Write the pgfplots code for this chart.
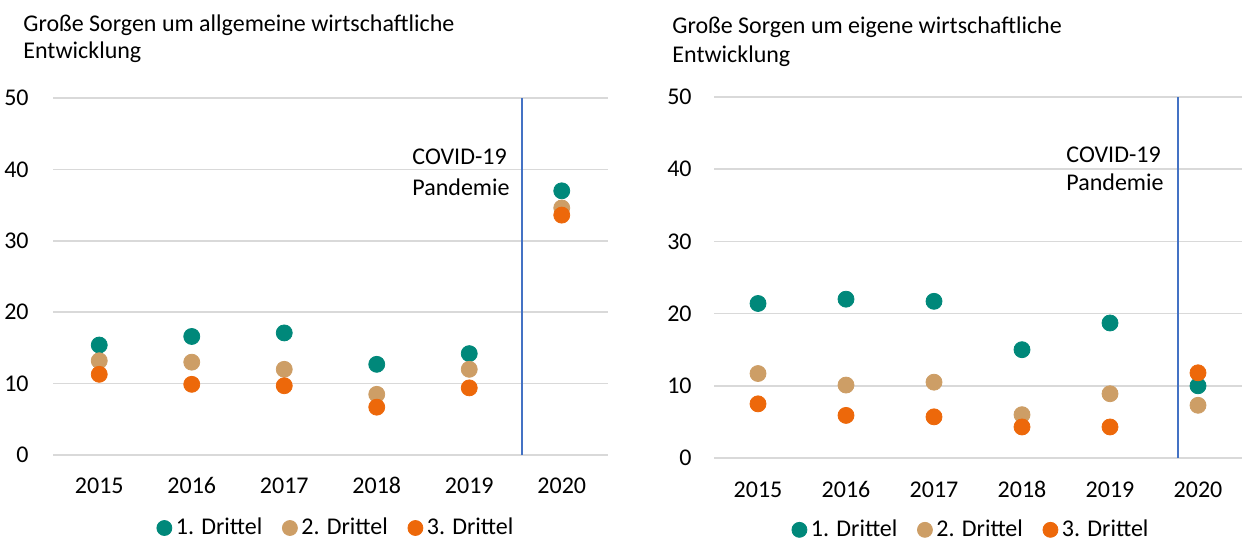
\documentclass[border=0pt]{standalone}
\usepackage{fontspec}
\setmainfont{Carlito}
\usepackage{pgfplots}
\pgfplotsset{compat=1.18}
\definecolor{cteal}{RGB}{0,136,122}
\definecolor{ctan}{RGB}{205,158,102}
\definecolor{corange}{RGB}{237,104,10}
\definecolor{cblue}{RGB}{68,114,196}
\definecolor{cgrid}{RGB}{217,217,217}
\newcommand{\tfont}{\fontsize{12}{14}\selectfont}
\pgfplotsset{
  mystyle/.style={
    scale only axis, anchor=south west,
    xmin=-0.5, xmax=5.5, ymin=0, ymax=50,
    ytick={0,10,20,30,40,50}, xtick={0,1,2,3,4,5},
    xticklabels={2015,2016,2017,2018,2019,2020},
    ymajorgrids, grid style={line width=0.75pt, color=cgrid},
    axis line style={draw=none}, major tick length=0pt,
    tick label style={font=\tfont},
    /pgf/number format/assume math mode=true,
    clip=false,
    legend columns=3,
    legend style={draw=none, fill=none, font=\tfont, anchor=center,
      /tikz/every even column/.append style={column sep=8pt}},
    legend image code/.code={\draw[##1,mark size=3.75pt] plot coordinates {(0pt,0pt)};},
  },
  dots/.style={only marks, mark=*, mark size=4pt, color=#1, mark options={draw=#1, fill=#1}},
}
\begin{document}
\begin{tikzpicture}
\useasboundingbox (0,0) rectangle (622.5pt,270pt);
% left panel
\begin{axis}[mystyle, at={(26.5pt,42.5pt)}, width=277.5pt, height=178.5pt,
  xticklabel style={anchor=base, yshift=-19pt},
  yticklabel style={anchor=east, inner sep=0pt, xshift=-12pt},
  legend style={at={(0.512,-0.2045)}}]
\draw[cblue, line width=0.75pt] (axis cs:4.57,0) -- (axis cs:4.57,50);
\addplot[dots=cteal] coordinates {(0,15.4) (1,16.6) (2,17.1) (3,12.7) (4,14.2) (5,37.0)};
\addplot[dots=ctan] coordinates {(0,13.2) (1,13.0) (2,12.0) (3,8.5) (4,12.0) (5,34.6)};
\addplot[dots=corange] coordinates {(0,11.3) (1,9.9) (2,9.7) (3,6.7) (4,9.4) (5,33.6)};
\legend{1. Drittel, 2. Drittel, 3. Drittel}
\end{axis}
% right panel
\begin{axis}[mystyle, at={(357pt,41pt)}, width=264pt, height=180.5pt,
  xticklabel style={anchor=base, yshift=-19.5pt},
  yticklabel style={anchor=east, inner sep=0pt, xshift=-11pt},
  legend style={at={(0.489,-0.199)}}]
\draw[cblue, line width=0.75pt] (axis cs:4.77,0) -- (axis cs:4.77,50);
\addplot[dots=cteal] coordinates {(0,21.4) (1,22.0) (2,21.7) (3,15.0) (4,18.7) (5,10.0)};
\addplot[dots=ctan] coordinates {(0,11.7) (1,10.1) (2,10.5) (3,6.0) (4,8.9) (5,7.3)};
\addplot[dots=corange] coordinates {(0,7.5) (1,5.9) (2,5.7) (3,4.3) (4,4.3) (5,11.8)};
\legend{1. Drittel, 2. Drittel, 3. Drittel}
\end{axis}
% titles
\node[anchor=base west, inner sep=0pt, font=\tfont] at (11.5pt,254pt) {Große Sorgen um allgemeine wirtschaftliche};
\node[anchor=base west, inner sep=0pt, font=\tfont] at (11.5pt,240.5pt) {Entwicklung};
\node[anchor=base west, inner sep=0pt, font=\tfont] at (336pt,253pt) {Große Sorgen um eigene wirtschaftliche};
\node[anchor=base west, inner sep=0pt, font=\tfont] at (336pt,238.5pt) {Entwicklung};
% annotations
\node[anchor=base west, inner sep=0pt, font=\tfont] at (206pt,187.5pt) {COVID-19};
\node[anchor=base west, inner sep=0pt, font=\tfont] at (206pt,172pt) {Pandemie};
\node[anchor=base west, inner sep=0pt, font=\tfont] at (533pt,188.5pt) {COVID-19};
\node[anchor=base west, inner sep=0pt, font=\tfont] at (533pt,174.5pt) {Pandemie};
\end{tikzpicture}
\end{document}
